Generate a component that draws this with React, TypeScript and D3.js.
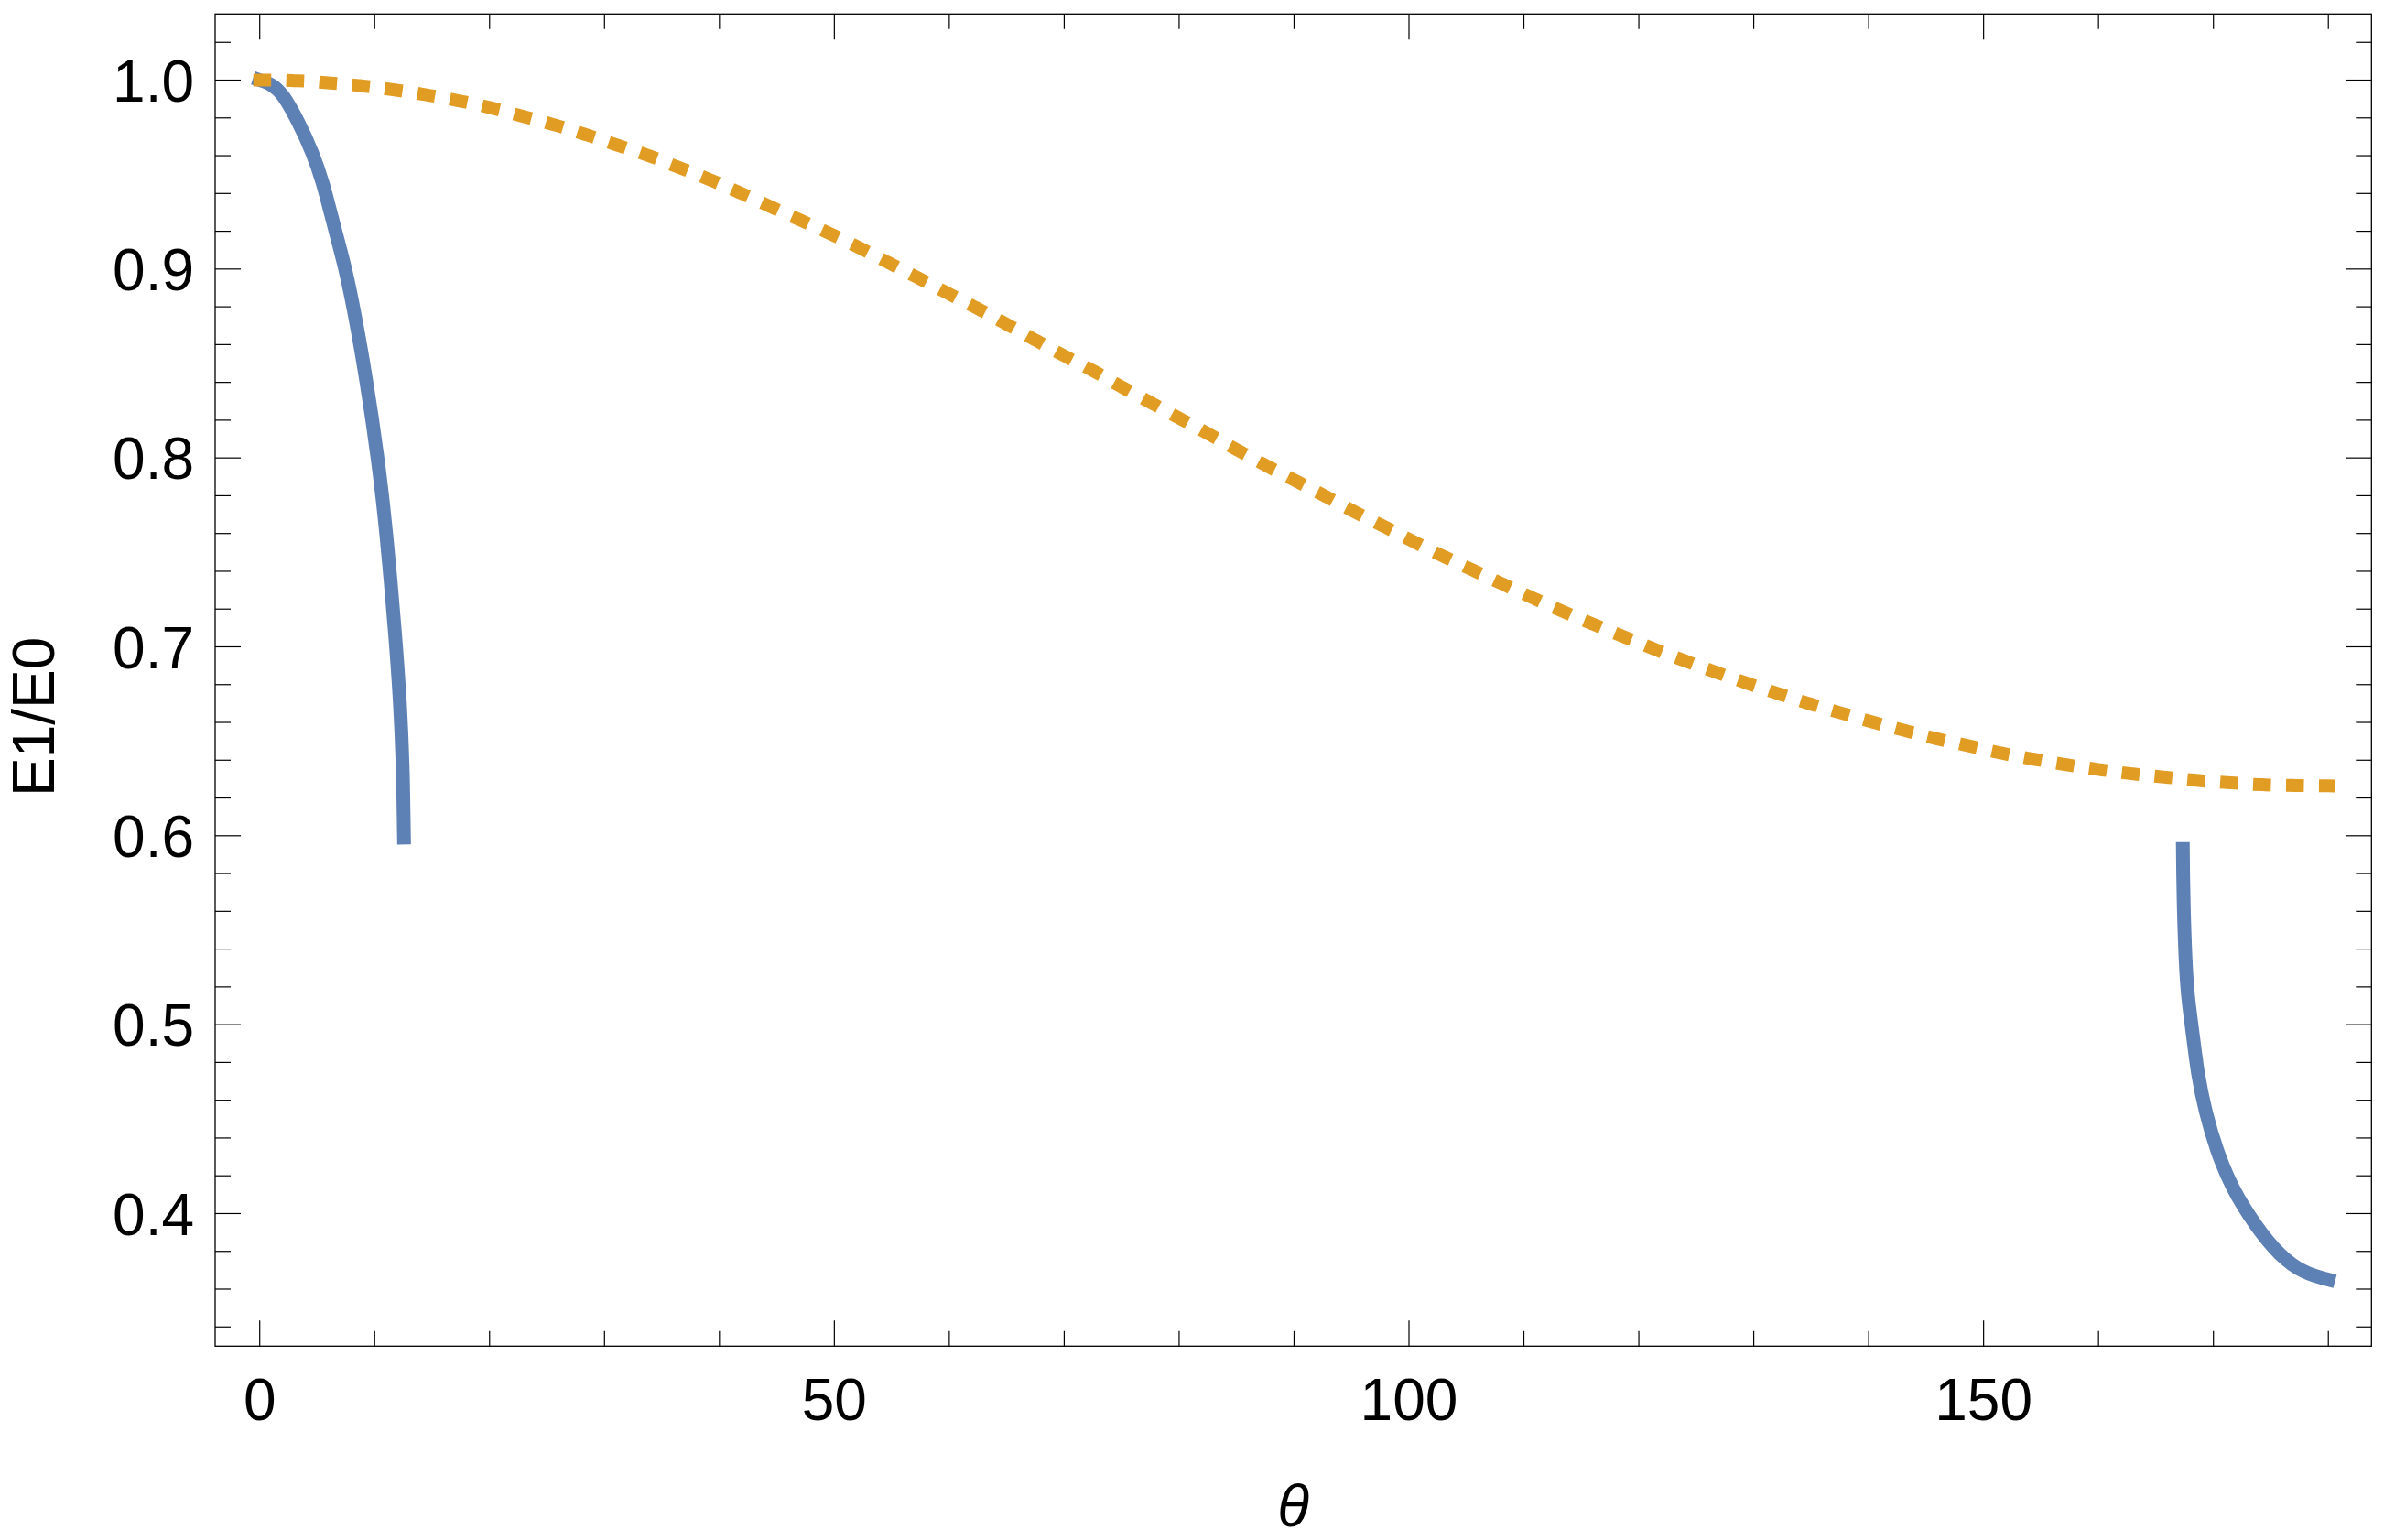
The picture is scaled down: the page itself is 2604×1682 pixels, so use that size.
import React from "react";
import * as d3 from "d3";

// ---- data ----
const orangeTheta = [0, 3.0, 5.9, 8.7, 11.6, 14.4, 17.2, 20.0, 22.8, 25.6, 28.3, 31.1, 33.8, 36.5, 39.2, 41.7, 44.3, 47.0, 49.6, 52.2, 54.7, 57.3, 59.8, 62.4, 64.9, 67.4, 69.9, 72.5, 75.0, 77.5, 80.0, 82.5, 85.0, 87.6, 90.2, 92.8, 95.3, 97.9, 100.4, 103.0, 105.6, 108.2, 110.8, 113.4, 116.1, 118.6, 121.4, 124.1, 126.8, 129.5, 132.2, 134.9, 137.7, 140.5, 143.2, 146.0, 148.8, 151.6, 154.4, 157.2, 160.1, 162.9, 165.8, 168.7, 171.5, 174.3, 177.2, 180];
const orangeRatio = [1.0, 0.9997, 0.9986, 0.9971, 0.9949, 0.9923, 0.9892, 0.9855, 0.981, 0.9764, 0.9713, 0.9656, 0.9601, 0.9537, 0.9472, 0.9406, 0.9334, 0.926, 0.9188, 0.9112, 0.9034, 0.8953, 0.8874, 0.8793, 0.8711, 0.8627, 0.8544, 0.8462, 0.8376, 0.8294, 0.8211, 0.8129, 0.8044, 0.7959, 0.7877, 0.7795, 0.7714, 0.7635, 0.7557, 0.7479, 0.7405, 0.7331, 0.7258, 0.7187, 0.7118, 0.7056, 0.6987, 0.6924, 0.6864, 0.6806, 0.6751, 0.6698, 0.6648, 0.6599, 0.6556, 0.6512, 0.6475, 0.6437, 0.6405, 0.6376, 0.635, 0.6328, 0.631, 0.6292, 0.628, 0.627, 0.6266, 0.6264];

const blue1Theta = [0, 1.0, 2.0, 3.37, 4.6, 5.51, 6.18, 6.88, 7.46, 8.25, 9.26, 10.28, 11.02, 11.84, 12.21, 12.45, 12.53, 12.55];
const blue1Ratio = [1.0, 0.998, 0.993, 0.9779, 0.9617, 0.9456, 0.9294, 0.9132, 0.9, 0.877, 0.8422, 0.8002, 0.7614, 0.7032, 0.6709, 0.6386, 0.6063, 0.599];

const blue2Theta = [167.34, 167.36, 167.4, 167.56, 167.77, 168.2, 168.62, 169.3, 170.26, 171.58, 173.65, 175.78, 177.9, 180];
const blue2Ratio = [0.593, 0.58, 0.5645, 0.5341, 0.5141, 0.4955, 0.4739, 0.4538, 0.4337, 0.4136, 0.3935, 0.3775, 0.3683, 0.365];

const xMajorTicks = [0, 50, 100, 150];
const xMinorTicks = [10, 20, 30, 40, 60, 70, 80, 90, 110, 120, 130, 140, 160, 170, 180];
const yMajorTicks = [0.4, 0.5, 0.6, 0.7, 0.8, 0.9, 1.0];
const yMinorTicks = [0.34, 0.36, 0.38, 0.42, 0.44, 0.46, 0.48, 0.52, 0.54, 0.56, 0.58, 0.62, 0.64, 0.66, 0.68, 0.72, 0.74, 0.76, 0.78, 0.82, 0.84, 0.86, 0.88, 0.92, 0.94, 0.96, 0.98, 1.02];

const xLabel = "θ";
const yLabel = "E1/E0";

const W = 2604;
const H = 1682;
const L = 235, R = 2590.3, T = 15.3, B = 1470.3;

export default function App() {
  const x = d3.scaleLinear().domain([-3.88, 183.75]).range([L, R]);
  const y = d3.scaleLinear().domain([0.3298, 1.035]).range([B, T]);

  const lineSmooth = d3
    .line<[number, number]>()
    .x((d) => x(d[0]))
    .y((d) => y(d[1]))
    .curve(d3.curveBasis);

  const lineMono = d3
    .line<[number, number]>()
    .x((d) => x(d[0]))
    .y((d) => y(d[1]))
    .curve(d3.curveMonotoneX);

  const pts = (t: number[], v: number[]) => t.map((d, i) => [d, v[i]] as [number, number]);

  const font = "'Liberation Sans', Arial, sans-serif";
  const blue = "#5E81B5";
  const orange = "#E19C24";
  const tickColor = "#000";

  return (
    <svg width={W} height={H} style={{ position: "absolute", left: 0, top: 0, background: "#fff" }}>
      <rect x={0} y={0} width={W} height={H} fill="#fff" />
      <defs>
        <clipPath id="plotclip">
          <rect x={L} y={T} width={R - L} height={B - T} />
        </clipPath>
      </defs>

      {/* curves */}
      <g clipPath="url(#plotclip)">
        <path d={lineSmooth(pts(blue1Theta, blue1Ratio)) || ""} fill="none" stroke={blue} strokeWidth={15} strokeLinecap="square" />
        <path d={lineSmooth(pts(blue2Theta, blue2Ratio)) || ""} fill="none" stroke={blue} strokeWidth={15} strokeLinecap="square" />
        <path d={lineMono(pts(orangeTheta, orangeRatio)) || ""} fill="none" stroke={orange} strokeWidth={14} strokeDasharray="5.5 30.5" strokeLinecap="square" />
      </g>

      {/* frame */}
      <rect x={L} y={T} width={R - L} height={B - T} fill="none" stroke={tickColor} strokeWidth={1.3} />

      {/* x ticks */}
      {xMajorTicks.map((t) => (
        <g key={"xM" + t}>
          <line x1={x(t)} x2={x(t)} y1={B} y2={B - 28} stroke={tickColor} strokeWidth={1.2} />
          <line x1={x(t)} x2={x(t)} y1={T} y2={T + 28} stroke={tickColor} strokeWidth={1.2} />
          <text x={x(t)} y={1551} fontFamily={font} fontSize={64} textAnchor="middle" fill="#000">
            {t}
          </text>
        </g>
      ))}
      {xMinorTicks.map((t) => (
        <g key={"xm" + t}>
          <line x1={x(t)} x2={x(t)} y1={B} y2={B - 16.5} stroke={tickColor} strokeWidth={1.2} />
          <line x1={x(t)} x2={x(t)} y1={T} y2={T + 16.5} stroke={tickColor} strokeWidth={1.2} />
        </g>
      ))}

      {/* y ticks */}
      {yMajorTicks.map((t) => (
        <g key={"yM" + t}>
          <line x1={L} x2={L + 28} y1={y(t)} y2={y(t)} stroke={tickColor} strokeWidth={1.2} />
          <line x1={R} x2={R - 28} y1={y(t)} y2={y(t)} stroke={tickColor} strokeWidth={1.2} />
          <text x={212} y={y(t)} dy="0.36em" fontFamily={font} fontSize={64} textAnchor="end" fill="#000">
            {t.toFixed(1)}
          </text>
        </g>
      ))}
      {yMinorTicks.map((t) => (
        <g key={"ym" + t}>
          <line x1={L} x2={L + 17} y1={y(t)} y2={y(t)} stroke={tickColor} strokeWidth={1.2} />
          <line x1={R} x2={R - 17} y1={y(t)} y2={y(t)} stroke={tickColor} strokeWidth={1.2} />
        </g>
      ))}

      {/* axis titles */}
      <text x={(L + R) / 2} y={1667} fontFamily={font} fontSize={64} fontStyle="italic" textAnchor="middle" fill="#000">
        {xLabel}
      </text>
      <text transform={`translate(59, ${(T + B) / 2 + 40}) rotate(-90)`} fontFamily={font} fontSize={64} textAnchor="middle" fill="#000">
        {yLabel}
      </text>
    </svg>
  );
}
